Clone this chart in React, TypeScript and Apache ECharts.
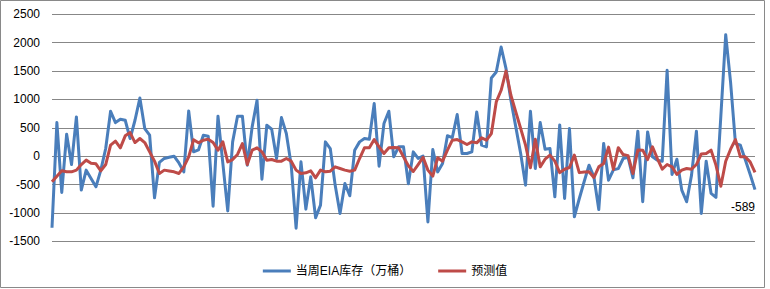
import React, { useEffect, useRef } from "react";
import * as echarts from "echarts";

const weeklyStock: number[] = [
  -1261, 592, -639, 387, -147, 692, -598, -246, -393, -540,
  -246, 135, 792, 592, 651, 633, 311, 633, 1026, 487,
  370, -733, -110, -40, -20, 0, -120, -277, 798, 76,
  110, 370, 352, -881, 705, -130, -964, 252, 705, 704,
  -158, 516, 985, -405, 545, 475, -41, 680, 400, -158,
  -1270, -100, -933, -364, -1085, -862, 252, 135, -510, -1009,
  -481, -698, 106, 252, 311, 299, 927, -176, 575, 792,
  -12, 164, 164, -487, 76, -40, 0, -1160, 118, -277,
  -130, 360, 328, 733, 47, 47, 76, 780, 194, 164,
  1378, 1484, 1924, 1542, 985, 516, 47, -510, 792, -217,
  592, 123, 135, -716, 550, -746, 487, -1069, -750, -450,
  -159, -364, -940, 224, -423, -240, -220, -41, -20, -381,
  440, -803, 428, -12, -70, -88, 1513, -323, -53, -598,
  -803, -334, 440, -1009, -88, -655, -725, 700, 2141, 1300,
  223, 194, -60, -320, -589,
];

const forecast: number[] = [
  -452, -352, -258, -276, -276, -246, -147, -70, -123, -135,
  -258, -147, 194, 264, 147, 358, 416, 240, 311, 240,
  76, -88, -305, -246, -260, -276, -305, -188, -12, 290,
  235, 282, 300, 240, 106, 252, -100, -60, 30, 223,
  -147, 106, 147, 76, -70, -59, -88, -88, -41, -88,
  -246, -305, -293, -258, -381, -246, -276, -264, -188, -217,
  -246, -264, -246, -41, 147, 147, 293, 164, 47, 147,
  152, 147, -12, -170, -270, -147, -20, -246, -352, -29,
  -88, 106, 282, 293, 252, 205, 252, 235, 323, 282,
  399, 956, 1161, 1501, 1073, 780, 487, 194, -205, 299,
  -188, -53, 18, -88, -290, -230, -200, 18, -290, -280,
  -276, -376, -188, -129, 160, -235, 150, 29, 10, -305,
  110, 106, -60, 164, -41, -229, -147, -188, -323, -246,
  -217, -229, -147, 40, 47, 106, -158, -530, -90, 123,
  293, -12, -12, -100, -285,
];

const weeks: string[] = weeklyStock.map((_, i) => String(i + 1));

const seriesNames: string[] = ["当周EIA库存（万桶）", "预测值"];
const yTicks = { min: -1500, max: 2500, interval: 500 };

const FONT = "'Liberation Sans', 'Noto Sans CJK SC', sans-serif";

export default function App() {
  const ref = useRef<HTMLDivElement>(null);

  useEffect(() => {
    document.body.style.margin = "0";
    if (!ref.current) return;
    const chart = echarts.init(ref.current, undefined, { renderer: "svg" });
    chart.setOption({
      animation: false,
      backgroundColor: "#ffffff",
      textStyle: { fontFamily: FONT },
      grid: { left: 52, right: 15, top: 14.3, bottom: 47.7, containLabel: false },
      graphic: [
        {
          type: "rect",
          shape: { x: 0.5, y: 0.5, width: 764, height: 287 },
          style: { fill: "none", stroke: "#898989", lineWidth: 1 },
          silent: true,
        },
      ],
      legend: {
        left: "center",
        top: 260,
        icon: "rect",
        itemWidth: 28,
        itemHeight: 3,
        itemGap: 27,
        textStyle: { fontSize: 12, color: "#000", fontFamily: FONT },
        data: seriesNames,
      },
      xAxis: {
        type: "category",
        data: weeks,
        boundaryGap: false,
        axisLine: { show: false },
        axisTick: { show: false },
        axisLabel: { show: false },
        splitLine: { show: false },
      },
      yAxis: {
        type: "value",
        min: yTicks.min,
        max: yTicks.max,
        interval: yTicks.interval,
        axisLine: { show: false },
        axisTick: { show: false },
        axisLabel: {
          fontSize: 12,
          color: "#000",
          margin: 12,
          fontFamily: FONT,
          formatter: (v: number) => String(v),
        },
        splitLine: { lineStyle: { color: "#878787", width: 1 } },
      },
      series: [
        {
          name: seriesNames[0],
          type: "line",
          symbol: "none",
          showSymbol: false,
          color: "#4A7EBB",
          lineStyle: { width: 3, color: "#4A7EBB", join: "round" },
          data: weeklyStock,
          endLabel: {
            show: true,
            formatter: (p: any) => String(Array.isArray(p.value) ? p.value[1] : p.value),
            offset: [-32, 17],
            fontSize: 12,
            color: "#000",
            fontFamily: FONT,
          },
          z: 2,
        },
        {
          name: seriesNames[1],
          type: "line",
          symbol: "none",
          showSymbol: false,
          color: "#BE4B48",
          lineStyle: { width: 3, color: "#BE4B48", join: "round" },
          data: forecast,
          z: 3,
        },
      ],
    });
    return () => chart.dispose();
  }, []);

  return <div ref={ref} style={{ width: 770, height: 289 }} />;
}
